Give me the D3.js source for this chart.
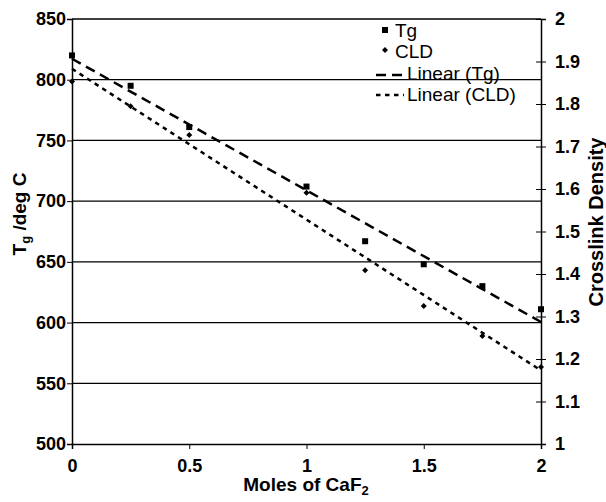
<!DOCTYPE html>
<html><head><meta charset="utf-8">
<script src="https://cdn.jsdelivr.net/npm/d3@7"></script>
<style>body{margin:0;background:#fff}svg{display:block}text{font-family:"Liberation Sans",Arial,sans-serif}</style>
</head><body>
<svg id="c" width="606" height="502"></svg>
<script>
const moles = [0, 0.25, 0.5, 1, 1.25, 1.5, 1.75, 2];
const tg = [820, 795, 761, 712, 667, 648, 630, 611];
const cld = [1.853, 1.795, 1.727, 1.591, 1.409, 1.325, 1.254, 1.181];
const xTicks = [0, 0.5, 1, 1.5, 2];
const yTicks = [500, 550, 600, 650, 700, 750, 800, 850];
const y2Ticks = [1, 1.1, 1.2, 1.3, 1.4, 1.5, 1.6, 1.7, 1.8, 1.9, 2];

const L = 72, R = 541, T = 19, B = 444;
const svg = d3.select("#c");
const x = d3.scaleLinear().domain([0, 2]).range([L, R]);
const y = d3.scaleLinear().domain([500, 850]).range([B, T]);
const y2 = d3.scaleLinear().domain([1, 2]).range([B, T]);

function fit(xs, ys) {
  const mx = d3.mean(xs), my = d3.mean(ys);
  let sxy = 0, sxx = 0;
  xs.forEach((v, i) => { sxy += (v - mx) * (ys[i] - my); sxx += (v - mx) * (v - mx); });
  const m = sxy / sxx; return { m, b: my - m * mx };
}

// gridlines
svg.append("g").selectAll("line").data(yTicks.slice(1)).join("line")
  .attr("x1", L).attr("x2", R).attr("y1", d => y(d)).attr("y2", d => y(d))
  .attr("stroke", "#000").attr("stroke-width", 1.3);

// left axis
const gl = svg.append("g").attr("transform", `translate(${L},0)`)
  .call(d3.axisLeft(y).tickValues(yTicks).tickSize(5).tickPadding(1).tickFormat(d3.format("d")));
gl.select(".domain").attr("stroke-width", 1.5);
gl.selectAll("text").attr("font-size", 18).attr("font-weight", "bold").attr("fill", "#000");

// bottom axis
const gb = svg.append("g").attr("transform", `translate(0,${B})`)
  .call(d3.axisBottom(x).tickValues(xTicks).tickSize(5).tickPadding(10).tickFormat(d => d3.format("")(d)));
gb.select(".domain").attr("stroke-width", 1.5);
gb.selectAll("text").attr("font-size", 18).attr("font-weight", "bold").attr("fill", "#000");

// right axis
const gr = svg.append("g").attr("transform", `translate(${R},0)`)
  .call(d3.axisRight(y2).tickValues(y2Ticks).tickSize(5).tickPadding(9).tickFormat(d => d3.format("")(+d.toFixed(1))));
gr.select(".domain").attr("stroke-width", 1.5);
gr.selectAll(".tick line").attr("x1", -5);
gr.selectAll("text").attr("font-size", 18).attr("font-weight", "bold").attr("fill", "#000");

// trendlines
const f1 = fit(moles, tg), f2 = fit(moles, cld);
svg.append("line").attr("x1", x(0)).attr("x2", x(2))
  .attr("y1", y(f1.b)).attr("y2", y(f1.b + 2 * f1.m))
  .attr("stroke", "#000").attr("stroke-width", 2.5).attr("stroke-dasharray", "10,6");
svg.append("line").attr("x1", x(0)).attr("x2", x(2))
  .attr("y1", y2(f2.b)).attr("y2", y2(f2.b + 2 * f2.m))
  .attr("stroke", "#000").attr("stroke-width", 2.5).attr("stroke-dasharray", "4.5,4.5");

// markers
svg.append("g").selectAll("rect").data(moles).join("rect")
  .attr("x", (d) => x(d) - 3).attr("y", (d, i) => y(tg[i]) - 3)
  .attr("width", 6).attr("height", 6).attr("fill", "#000");
const dia = d3.symbol().type(d3.symbolSquare).size(18);
svg.append("g").selectAll("path").data(moles).join("path")
  .attr("d", dia).attr("transform", (d, i) => `translate(${x(d)},${y2(cld[i])}) rotate(45)`).attr("fill", "#000");

// legend
const lg = svg.append("g");
lg.append("rect").attr("x", 382).attr("y", 27).attr("width", 6).attr("height", 6).attr("fill", "#000");
lg.append("path").attr("d", dia).attr("transform", "translate(385,50) rotate(45)");
lg.append("line").attr("x1", 376).attr("x2", 402).attr("y1", 75).attr("y2", 75)
  .attr("stroke", "#000").attr("stroke-width", 2.5).attr("stroke-dasharray", "10,6");
lg.append("line").attr("x1", 376).attr("x2", 404).attr("y1", 95).attr("y2", 95)
  .attr("stroke", "#000").attr("stroke-width", 2.5).attr("stroke-dasharray", "4.5,4.5");
const legTxt = ["Tg", "CLD", "Linear (Tg)", "Linear (CLD)"];
const legX = [395, 395, 407, 407], legY = [37, 58, 80, 101];
lg.selectAll("text").data(legTxt).join("text")
  .attr("x", (d, i) => legX[i]).attr("y", (d, i) => legY[i])
  .attr("font-size", 19).attr("fill", "#000").text(d => d);

// axis titles
const xt = svg.append("text").attr("x", 306).attr("y", 491).attr("text-anchor", "middle")
  .attr("font-size", 19).attr("font-weight", "bold");
xt.append("tspan").text("Moles of CaF");
xt.append("tspan").attr("font-size", 13).attr("dy", 4).text("2");

const yt = svg.append("text").attr("transform", "translate(26,214) rotate(-90)").attr("text-anchor", "middle")
  .attr("font-size", 19).attr("font-weight", "bold");
yt.append("tspan").text("T");
yt.append("tspan").attr("font-size", 13).attr("dy", 4).text("g");
yt.append("tspan").attr("dy", -4).text(" /deg C");

svg.append("text").attr("transform", "translate(603,222) rotate(-90)").attr("text-anchor", "middle")
  .attr("font-size", 20).attr("font-weight", "bold").text("Crosslink Density");
</script>
</body></html>
